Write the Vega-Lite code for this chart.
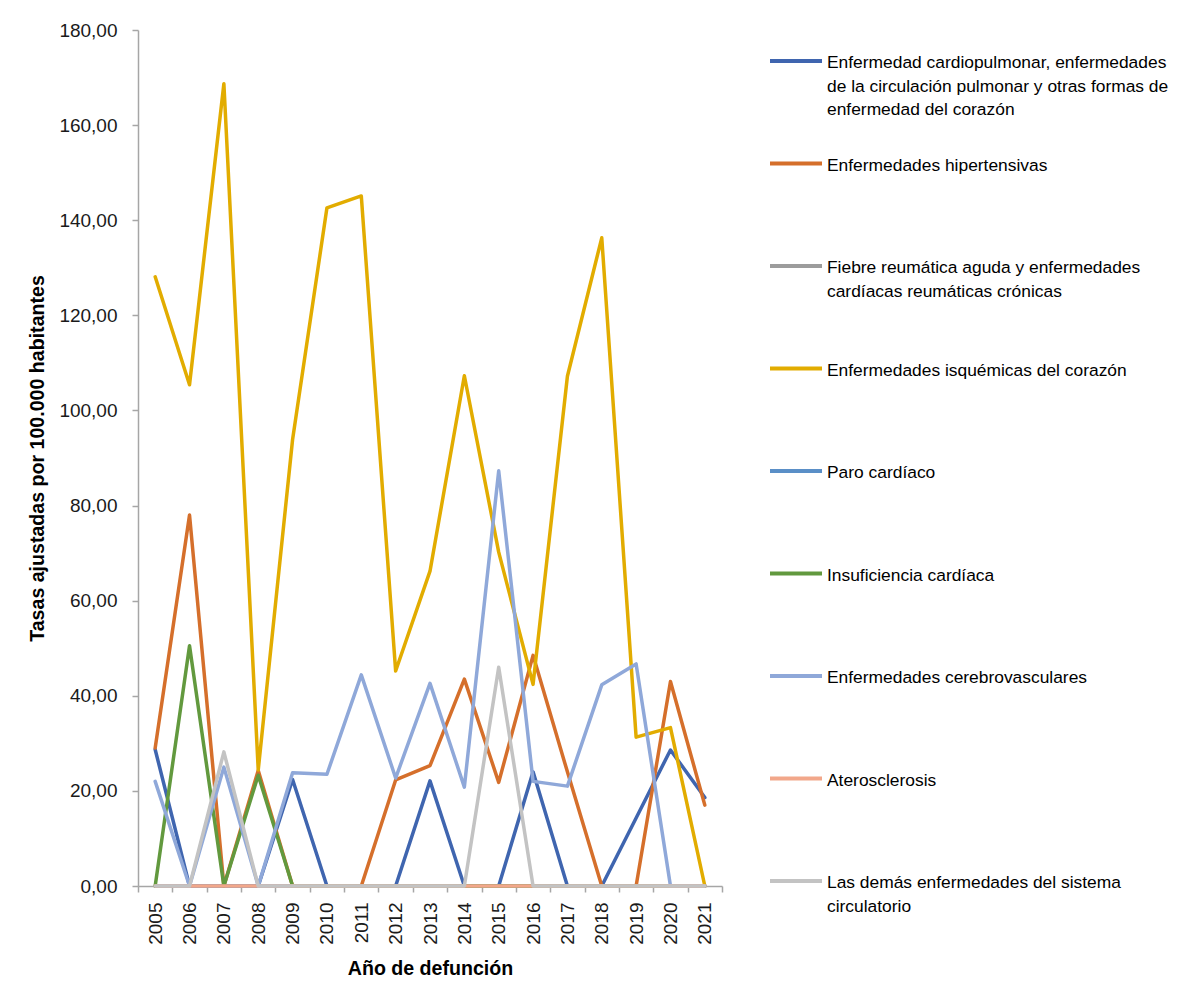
{
  "$schema": "https://vega.github.io/schema/vega-lite/v6.json",
  "width": 584,
  "height": 856,
  "autosize": {"type": "none"},
  "padding": {"left": 138, "top": 30, "right": 460, "bottom": 104},
  "background": "white",
  "data": {
    "values": [
      {"anio": "2005", "A": 28.7, "B": 29.0, "C": 0, "D": 128.1, "E": 0, "F": 0, "G": 22.0, "H": 0, "I": 0},
      {"anio": "2006", "A": 0, "B": 78.0, "C": 0, "D": 105.4, "E": 0, "F": 50.5, "G": 0, "H": 0, "I": 0},
      {"anio": "2007", "A": 0, "B": 0, "C": 0, "D": 168.7, "E": 0, "F": 0, "G": 25.0, "H": 0, "I": 28.2},
      {"anio": "2008", "A": 0, "B": 24.3, "C": 0, "D": 24.4, "E": 0, "F": 23.3, "G": 0, "H": 0, "I": 0},
      {"anio": "2009", "A": 22.4, "B": 0, "C": 0, "D": 93.9, "E": 0, "F": 0, "G": 23.8, "H": 0, "I": 0},
      {"anio": "2010", "A": 0, "B": 0, "C": 0, "D": 142.6, "E": 0, "F": 0, "G": 23.5, "H": 0, "I": 0},
      {"anio": "2011", "A": 0, "B": 0, "C": 0, "D": 145.1, "E": 0, "F": 0, "G": 44.4, "H": 0, "I": 0},
      {"anio": "2012", "A": 0, "B": 22.3, "C": 0, "D": 45.2, "E": 0, "F": 0, "G": 22.7, "H": 0, "I": 0},
      {"anio": "2013", "A": 22.1, "B": 25.3, "C": 0, "D": 66.2, "E": 0, "F": 0, "G": 42.6, "H": 0, "I": 0},
      {"anio": "2014", "A": 0, "B": 43.5, "C": 0, "D": 107.3, "E": 0, "F": 0, "G": 20.8, "H": 0, "I": 0},
      {"anio": "2015", "A": 0, "B": 21.8, "C": 0, "D": 70.2, "E": 0, "F": 0, "G": 87.3, "H": 0, "I": 46.0},
      {"anio": "2016", "A": 24.0, "B": 48.5, "C": 0, "D": 42.4, "E": 0, "F": 0, "G": 22.0, "H": 0, "I": 0},
      {"anio": "2017", "A": 0, "B": 24.0, "C": 0, "D": 107.2, "E": 0, "F": 0, "G": 21.0, "H": 0, "I": 0},
      {"anio": "2018", "A": 0, "B": 0, "C": 0, "D": 136.3, "E": 0, "F": 0, "G": 42.3, "H": 0, "I": 0},
      {"anio": "2019", "A": 14.3, "B": 0, "C": 0, "D": 31.3, "E": 0, "F": 0, "G": 46.7, "H": 0, "I": 0},
      {"anio": "2020", "A": 28.6, "B": 43.0, "C": 0, "D": 33.3, "E": 0, "F": 0, "G": 0, "H": 0, "I": 0},
      {"anio": "2021", "A": 18.6, "B": 17.0, "C": 0, "D": 0, "E": 0, "F": 0, "G": 0, "H": 0, "I": 0}
    ]
  },
  "transform": [
    {"fold": ["A", "B", "C", "D", "E", "F", "G", "H", "I"], "as": ["clave", "tasa"]},
    {"lookup": "clave", "from": {"data": {"values": [
      {"clave": "A", "serie": "Enfermedad cardiopulmonar, enfermedades de la circulación pulmonar y otras formas de enfermedad del corazón"},
      {"clave": "B", "serie": "Enfermedades hipertensivas"},
      {"clave": "C", "serie": "Fiebre reumática aguda y enfermedades cardíacas reumáticas crónicas"},
      {"clave": "D", "serie": "Enfermedades isquémicas del corazón"},
      {"clave": "E", "serie": "Paro cardíaco"},
      {"clave": "F", "serie": "Insuficiencia cardíaca"},
      {"clave": "G", "serie": "Enfermedades cerebrovasculares"},
      {"clave": "H", "serie": "Aterosclerosis"},
      {"clave": "I", "serie": "Las demás enfermedades del sistema circulatorio"}
    ]}, "key": "clave", "fields": ["serie"]}}
  ],
  "mark": {"type": "line", "strokeWidth": 3.5, "strokeCap": "round", "strokeJoin": "round"},
  "encoding": {
    "x": {
      "field": "anio", "type": "ordinal", "bandPosition": 0.5,
      "scale": {"type": "band", "paddingInner": 0, "paddingOuter": 0},
      "axis": {
        "title": "Año de defunción", "labelAngle": -90, "tickBand": "extent",
        "labelPadding": 10, "titlePadding": 15
      }
    },
    "y": {
      "field": "tasa", "type": "quantitative",
      "scale": {"domain": [0, 180], "nice": false},
      "axis": {
        "title": "Tasas ajustadas por 100.000 habitantes",
        "values": [0, 20, 40, 60, 80, 100, 120, 140, 160, 180],
        "labelExpr": "replace(format(datum.value, '.2f'), '.', ',')",
        "grid": false, "labelPadding": 15, "titlePadding": 11
      }
    },
    "color": {
      "field": "serie", "type": "nominal",
      "scale": {
        "domain": [
          "Enfermedad cardiopulmonar, enfermedades de la circulación pulmonar y otras formas de enfermedad del corazón",
          "Enfermedades hipertensivas",
          "Fiebre reumática aguda y enfermedades cardíacas reumáticas crónicas",
          "Enfermedades isquémicas del corazón",
          "Paro cardíaco",
          "Insuficiencia cardíaca",
          "Enfermedades cerebrovasculares",
          "Aterosclerosis",
          "Las demás enfermedades del sistema circulatorio"
        ],
        "range": ["#3F65AF", "#D56F2B", "#9C9C9C", "#E2AC00", "#5A8FC7", "#62993E", "#8FA8D9", "#F2A78A", "#C3C3C3"]
      },
      "legend": {
        "title": null,
        "orient": "none",
        "legendX": 630,
        "legendY": 3,
        "labelExpr": "datum.label == 'Enfermedad cardiopulmonar, enfermedades de la circulación pulmonar y otras formas de enfermedad del corazón' ? ['Enfermedad cardiopulmonar, enfermedades', 'de la circulación pulmonar y otras formas de', 'enfermedad del corazón'] : datum.label == 'Fiebre reumática aguda y enfermedades cardíacas reumáticas crónicas' ? ['Fiebre reumática aguda y enfermedades', 'cardíacas reumáticas crónicas'] : datum.label == 'Las demás enfermedades del sistema circulatorio' ? ['Las demás enfermedades del sistema', 'circulatorio'] : datum.label",
        "encode": {"labels": {"update": {"dy": {"value": -7}, "lineHeight": {"value": 23.7}}}}
      }
    }
  },
  "config": {
    "font": "Liberation Sans",
    "view": {"stroke": null},
    "axis": {
      "domainColor": "#A6A6A6", "domainWidth": 1.5, "tickColor": "#A6A6A6", "tickWidth": 1.5, "tickSize": 6,
      "labelFont": "Liberation Sans", "labelFontSize": 19, "labelColor": "#1A1A1A",
      "titleFont": "Liberation Sans", "titleFontSize": 19.6, "titleFontWeight": "bold", "titleColor": "#000000"
    },
    "legend": {
      "padding": 0, "symbolType": "stroke", "symbolSize": 2704, "symbolStrokeWidth": 4,
      "labelFont": "Liberation Sans", "labelFontSize": 17.4, "labelColor": "#000000", "labelLimit": 600,
      "labelOffset": 3, "labelBaseline": "top", "gridAlign": "all", "rowPadding": 16.5
    }
  }
}
